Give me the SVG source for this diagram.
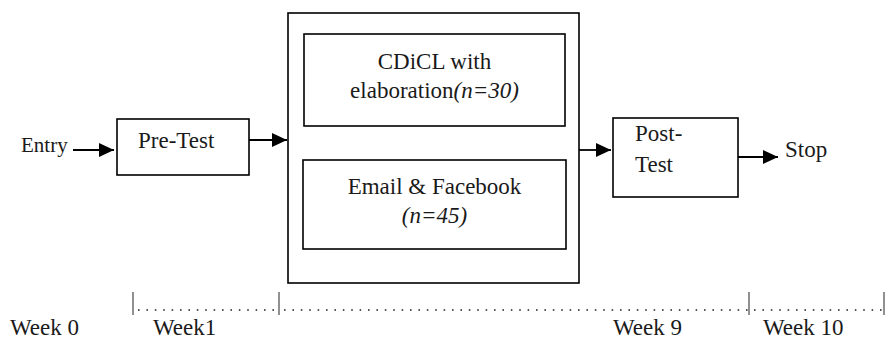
<svg xmlns="http://www.w3.org/2000/svg" width="889" height="342" viewBox="0 0 889 342">
<style>
.box{fill:#fff;stroke:#000;stroke-width:1.6}
.ln{stroke:#000;stroke-width:1.8;fill:none}
.tick{stroke:#555;stroke-width:1.3}
.dot{stroke:#222;stroke-width:1.6;stroke-dasharray:1.6 6.8;fill:none}
</style>
<defs>
<marker id="ah" markerWidth="16" markerHeight="14" refX="15" refY="7" orient="auto" markerUnits="userSpaceOnUse">
<path d="M0,0 L15,7 L0,14 Z" fill="#000"/>
</marker>
</defs>
<g font-family="Liberation Serif, Times New Roman, serif" font-size="23" fill="#1a1a1a">
<g id="entry"><text x="21" y="152" font-size="21">Entry</text></g>
<g id="pretest"><rect class="box" x="117" y="119" width="132" height="56"/><text x="138" y="148">Pre-Test</text></g>
<g id="intervention"><rect class="box" x="288" y="13" width="291" height="270"/></g>
<g id="cdicl"><rect class="box" x="304" y="34" width="261" height="92"/><text text-anchor="middle" x="434.5" y="69">CDiCL with</text><text text-anchor="middle" x="434.5" y="98">elaboration<tspan font-style="italic">(n=30)</tspan></text></g>
<g id="email"><rect class="box" x="303" y="160" width="263" height="89"/><text text-anchor="middle" x="434.5" y="194">Email &amp; Facebook</text><text text-anchor="middle" font-style="italic" x="434.5" y="223">(n=45)</text></g>
<g id="posttest"><rect class="box" x="613" y="118" width="125" height="79"/><text x="635" y="141">Post-</text><text x="635" y="172">Test</text></g>
<g id="stop"><text x="785" y="157">Stop</text></g>
<g id="connectors">
<line class="ln" x1="73" y1="150" x2="114" y2="150" marker-end="url(#ah)"/>
<line class="ln" x1="249" y1="140" x2="287" y2="140" marker-end="url(#ah)"/>
<line class="ln" x1="579" y1="150" x2="611" y2="150" marker-end="url(#ah)"/>
<line class="ln" x1="738" y1="157" x2="778" y2="157" marker-end="url(#ah)"/>
</g>
<g id="timeline">
<line class="tick" x1="133" y1="292" x2="133" y2="315"/>
<line class="tick" x1="279" y1="292" x2="279" y2="315"/>
<line class="tick" x1="749" y1="292" x2="749" y2="315"/>
<line class="tick" x1="884" y1="292" x2="884" y2="315"/>
<line class="dot" x1="138" y1="310" x2="279" y2="310"/>
<line class="dot" x1="284" y1="310" x2="749" y2="310"/>
<line class="dot" x1="754" y1="310" x2="884" y2="310"/>
<text x="10" y="335">Week 0</text>
<text x="153" y="335">Week1</text>
<text x="613" y="335">Week 9</text>
<text x="763" y="335">Week 10</text>
</g>
</g>
</svg>
